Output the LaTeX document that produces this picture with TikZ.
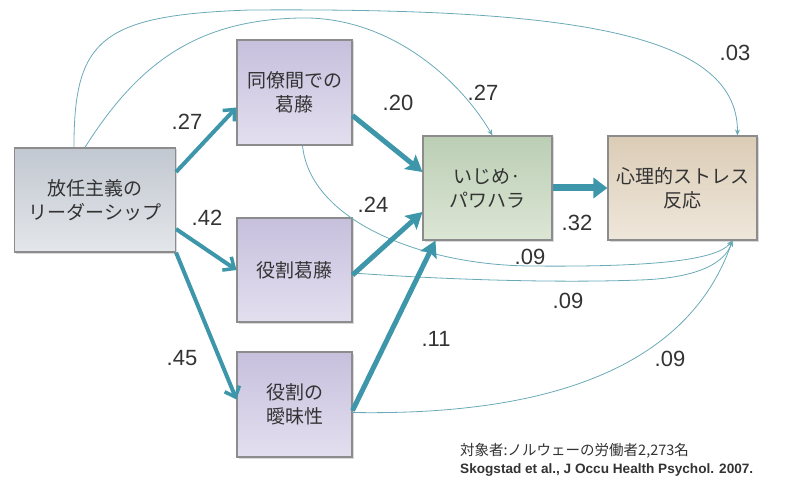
\documentclass[tikz,border=0pt]{standalone}
\usepackage{fontspec}
\setmainfont{Liberation Sans}
\newfontfamily\jp{Noto Sans CJK JP}
\usetikzlibrary{arrows.meta,shadows,calc}
\definecolor{teal1}{HTML}{3E96AA}
\definecolor{thin1}{HTML}{6AAAB8}
\definecolor{boxline}{HTML}{8C8C8C}
\definecolor{txt}{HTML}{333333}
\definecolor{leadA}{HTML}{C2C8D1}
\definecolor{leadB}{HTML}{E3E6EA}
\definecolor{purA}{HTML}{C6C0DD}
\definecolor{purB}{HTML}{E3DFEF}
\definecolor{grnA}{HTML}{BBCEB4}
\definecolor{grnB}{HTML}{DCE6D5}
\definecolor{tanA}{HTML}{DBCCB6}
\definecolor{tanB}{HTML}{EFE7DB}
\begin{document}
\begin{tikzpicture}[x=1pt,y=-1pt,
  box/.style={draw=boxline, line width=1.1pt, align=center, text=txt,
    font=\jp\fontsize{19}{24}\selectfont, inner sep=0pt,
    drop shadow={shadow xshift=1.5pt, shadow yshift=-1.5pt, opacity=0.3}},
  thick1/.style={draw=teal1, line width=4pt, -{Straight Barb[length=9pt,width=16pt,line width=3.5pt]}},
  thick2/.style={draw=teal1, line width=5pt, -{Stealth[length=16pt,width=18pt,inset=3pt]}},
  thick3/.style={draw=teal1, line width=7pt, -{Triangle[length=14pt,width=20pt]}},
  thinarr/.style={draw=thin1, line width=0.8pt, -{Stealth[length=6pt,width=5pt]}},
  lab/.style={font=\fontsize{22}{26}\selectfont, text=txt, inner sep=0pt},
]
\useasboundingbox (0,0) rectangle (792,481);

\node[box, minimum width=161pt, minimum height=104pt, top color=leadA, bottom color=leadB] (L) at (95,200) {放任主義の\\リーダーシップ};
\node[box, minimum width=115pt, minimum height=105pt, top color=purA, bottom color=purB] (A) at (294.5,92.5) {同僚間での\\葛藤};
\node[box, minimum width=115pt, minimum height=104pt, top color=purA, bottom color=purB] (B) at (294.5,270) {役割葛藤};
\node[box, minimum width=115pt, minimum height=105pt, top color=purA, bottom color=purB] (C) at (294.5,404.5) {役割の\\曖昧性};
\node[box, minimum width=129pt, minimum height=104pt, top color=grnA, bottom color=grnB] (D) at (487.5,188) {いじめ·\\パワハラ};
\node[box, minimum width=149pt, minimum height=104pt, top color=tanA, bottom color=tanB] (E) at (682.5,188) {心理的ストレス\\反応};

% thin curves
\draw[thinarr] ($(L.north west)+(60,0)$) .. controls (74,40) and (100,15) .. (250,10) .. controls (560,8) and (738,30) .. ($(E.north west)+(130,0)$);
\draw[thinarr] ($(L.north west)+(71,0)$) .. controls (140,60) and (200,20) .. (300,18) .. controls (390,16) and (460,80) .. ($(D.north west)+(70,0)$);
\draw[thinarr] ($(A.south)+(8,0)$) .. controls (310,220) and (420,265) .. (530,266) .. controls (640,267) and (715,262) .. ($(E.south west)+(125,0)$);
\draw[thinarr] ($(B.east)+(0,3)$) .. controls (450,280) and (560,283) .. (640,280) .. controls (700,278) and (725,262) .. ($(E.south west)+(125,0)$);
\draw[thinarr] ($(C.east)+(0,8)$) .. controls (500,415) and (680,390) .. ($(E.south west)+(125,0)$);

% thick arrows
\draw[thick1] ($(L.east)+(0,-28)$) -- ($(A.west)+(0,15)$);
\draw[thick1] ($(L.east)+(0,29)$) -- (B.west);
\draw[thick1] (L.south east) -- ($(C.west)+(0,-5)$);
\draw[thick2] ($(A.east)+(0,23)$) -- ($(D.west)+(0,-16)$);
\draw[thick2] ($(B.east)+(0,5)$) -- ($(D.west)+(0,24)$);
\draw[thick2] ($(C.east)+(0,6)$) -- ($(D.south west)+(13,0)$);
\draw[thick3] (D.east) -- (E.west);

% labels
\node[lab] (l1) at (187,122) {.27};
\node[lab] (l2) at (207,218) {.42};
\node[lab] (l3) at (182,358) {.45};
\node[lab] (l4) at (398,103) {.20};
\node[lab] (l5) at (373,205) {.24};
\node[lab] (l6) at (436,339) {.11};
\node[lab] (l7) at (577,223) {.32};
\node[lab] (l8) at (483,93) {.27};
\node[lab] (l9) at (735,53) {.03};
\node[lab] (l10) at (530,257) {.09};
\node[lab] (l11) at (568,301) {.09};
\node[lab] (l12) at (670,359) {.09};

% footer
\node[anchor=west, inner sep=0pt, text=txt, font=\jp\fontsize{14.5}{17}\selectfont] (f1) at (460,451) {対象者:ノルウェーの労働者2,273名};
\node[anchor=west, inner sep=0pt, text=txt, font=\bfseries\fontsize{13.6}{16}\selectfont] (f2) at (460,470) {Skogstad et al., J Occu Health Psychol. 2007.};
\end{tikzpicture}
\end{document}
